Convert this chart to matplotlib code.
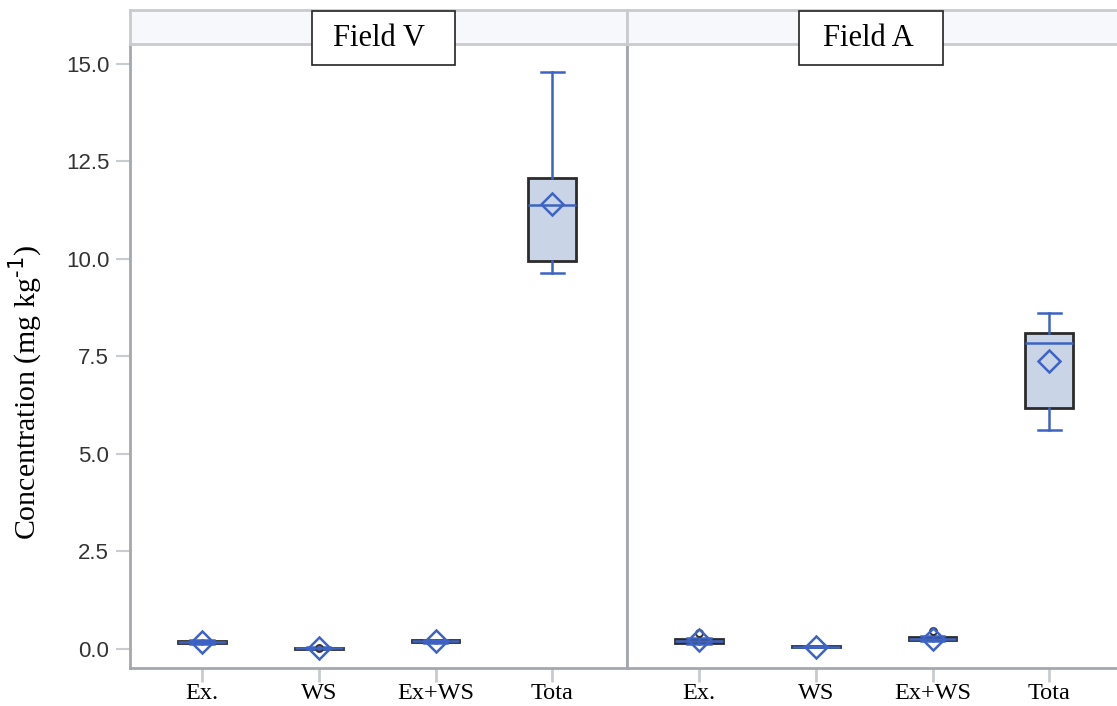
import matplotlib
matplotlib.use("Agg")
import matplotlib.pyplot as plt
from matplotlib.patches import Rectangle

plt.rcParams["axes.unicode_minus"] = False

# categories and panel names
categories = ["Ex.", "WS", "Ex+WS", "Tota"]
fields = ["Field V", "Field A"]

# box statistics (mg/kg), one list per field
v_whislo = [0.13, 0.00, 0.16, 9.65]
v_q1 = [0.14, 0.01, 0.17, 9.95]
v_med = [0.17, 0.02, 0.20, 11.37]
v_q3 = [0.20, 0.03, 0.22, 12.08]
v_whishi = [0.22, 0.04, 0.24, 14.78]
v_mean = [0.18, 0.02, 0.20, 11.41]
v_fliers = [[], [0.02], [], []]

a_whislo = [0.13, 0.04, 0.20, 5.62]
a_q1 = [0.15, 0.05, 0.22, 6.17]
a_med = [0.20, 0.06, 0.26, 7.85]
a_q3 = [0.26, 0.07, 0.30, 8.11]
a_whishi = [0.28, 0.08, 0.32, 8.62]
a_mean = [0.22, 0.06, 0.26, 7.37]
a_fliers = [[0.42], [], [0.47], []]

panels = [
    (v_whislo, v_q1, v_med, v_q3, v_whishi, v_mean, v_fliers),
    (a_whislo, a_q1, a_med, a_q3, a_whishi, a_mean, a_fliers),
]

W, H = 1117, 706
fig = plt.figure(figsize=(W / 100, H / 100), dpi=100)

blue = "#3d63c4"
frame = "#a4a8ad"
serif = ["Liberation Serif", "DejaVu Serif"]
sans = ["Liberation Sans", "DejaVu Sans"]

px_left = [130, 627]
px_w = 497
ax_bot, ax_top = 668, 44
strip_top = 10
title_box = [(312, 455), (799, 943)]
title_cx = [379, 868]

axes = []
for i, (lo, q1, med, q3, hi, mean, fl) in enumerate(panels):
    ax = fig.add_axes([px_left[i] / W, (H - ax_bot) / H, px_w / W, (ax_bot - ax_top) / H])
    stats = []
    for k in range(len(categories)):
        stats.append(dict(whislo=lo[k], q1=q1[k], med=med[k], q3=q3[k], whishi=hi[k],
                          mean=mean[k], fliers=fl[k], label=categories[k]))
    ax.bxp(stats, positions=range(len(categories)), widths=0.41, patch_artist=True,
           showmeans=True, showfliers=True,
           boxprops=dict(facecolor="#c9d5e7", edgecolor="#2b2b2b", linewidth=2),
           medianprops=dict(color=blue, linewidth=1.8),
           whiskerprops=dict(color=blue, linewidth=1.8),
           capprops=dict(color=blue, linewidth=1.8),
           capwidths=0.2,
           meanprops=dict(marker="D", markersize=11, markerfacecolor="none",
                          markeredgecolor=blue, markeredgewidth=1.8),
           flierprops=dict(marker="o", markersize=5, markerfacecolor="none",
                           markeredgecolor="#333333", markeredgewidth=1.4))
    ax.set_xlim(-0.617, 3.64)
    ax.set_ylim(-0.49, 15.51)
    ax.set_xticks(range(len(categories)))
    ax.set_xticklabels(categories, fontsize=17.5, family=serif, color="black")
    ax.tick_params(axis="x", length=10, width=2, color="#c8cbcf", pad=1)
    for s in ax.spines.values():
        s.set_color(frame)
        s.set_linewidth(2)
    ax.spines["top"].set_visible(False)
    if i == 0:
        ax.set_yticks([0, 2.5, 5, 7.5, 10, 12.5, 15])
        ax.set_yticklabels(["0.0", "2.5", "5.0", "7.5", "10.0", "12.5", "15.0"],
                           fontsize=16, family=sans, color="#333333")
        ax.tick_params(axis="y", length=10, width=1.5, color="#c8cbcf", pad=5)
        ax.set_ylabel("Concentration (mg kg$^{\\text{-}1}$)", fontsize=21.5,
                      family=serif)
        ax.yaxis.set_label_coords(-0.171, 0.442)
    else:
        ax.set_yticks([])
        ax.spines["right"].set_visible(False)
    axes.append(ax)

    # strip header
    sax = fig.add_axes([px_left[i] / W, (H - ax_top) / H, px_w / W, (ax_top - strip_top) / H])
    sax.set_facecolor("#f7f8fc")
    sax.set_xticks([])
    sax.set_yticks([])
    for s in sax.spines.values():
        s.set_color("#c9cbcf")
        s.set_linewidth(2)

    # title box
    x0, x1 = title_box[i]
    fig.patches.append(Rectangle((x0 / W, 1 - 65 / H), (x1 - x0) / W, 54 / H,
                                 transform=fig.transFigure, facecolor="white",
                                 edgecolor="#222222", linewidth=1.2, zorder=5))
    fig.text(title_cx[i] / W, 1 - 39 / H, fields[i], ha="center", va="center",
             fontsize=22, family=serif, color="black", zorder=6)

fig.savefig("out.png", dpi=100)
